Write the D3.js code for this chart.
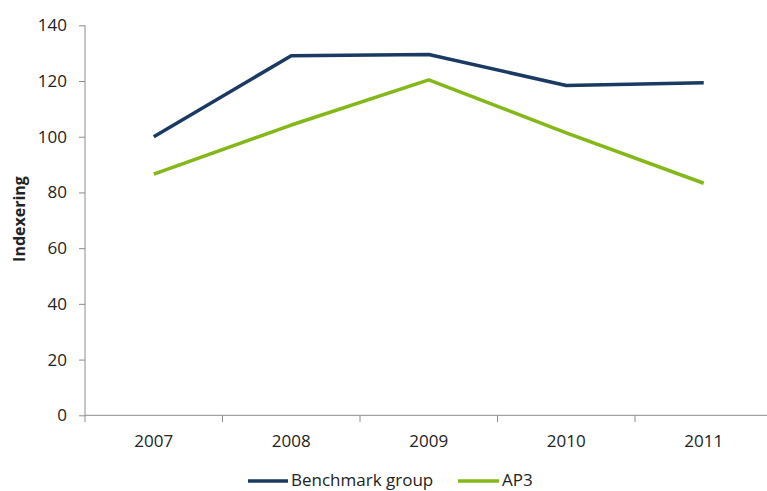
<!DOCTYPE html>
<html><head><meta charset="utf-8">
<script src="https://cdn.jsdelivr.net/npm/d3@7"></script>
<style>
body{margin:0;background:#fff;}
text{font-family:"Open Sans","Liberation Sans",sans-serif;fill:#222;}
</style></head>
<body><svg id="c" width="767" height="491"></svg>
<script>
const years = ["2007","2008","2009","2010","2011"];
const benchmark = [100, 129.1, 129.5, 118.4, 119.4];
const ap3 = [86.6, 104.2, 120.4, 101.4, 83.3];
const yTicks = [0,20,40,60,80,100,120,140];
const seriesNames = ["Benchmark group","AP3"];
const colors = ["#1b3a63","#84b819"];

const svg = d3.select("#c");
const x = d3.scaleBand().domain(years).range([85, 772.5]);
const y = d3.scaleLinear().domain([0,140]).range([415.3, 25.3]);

// y axis
const ya = svg.append("g").attr("transform","translate(85,0)")
  .call(d3.axisLeft(y).tickValues(yTicks).tickSize(6).tickPadding(12));
ya.select(".domain").attr("stroke","#8c8c8c").attr("d","M0,"+y(140)+"V"+y(0));
ya.selectAll(".tick line").attr("stroke","#8c8c8c");
ya.selectAll(".tick text").attr("font-size","17px").attr("fill","#222");

// x axis
const xa = svg.append("g").attr("transform","translate(0,415.3)")
  .call(d3.axisBottom(x).tickSize(0).tickPadding(20));
xa.select(".domain").attr("stroke","#8c8c8c").attr("d","M85,0H767");
xa.selectAll(".tick text").attr("font-size","17px").attr("fill","#222");
// category separator ticks
svg.append("g").selectAll("line").data(years).join("line")
  .attr("x1",d=>x(d)).attr("x2",d=>x(d))
  .attr("y1",415.3).attr("y2",422)
  .attr("stroke","#8c8c8c");

// y label
svg.append("text").attr("transform","translate(25,219) rotate(-90)")
  .attr("text-anchor","middle").attr("font-size","16px").attr("font-weight","bold")
  .text("Indexering");

const line = d3.line().x((d,i)=>x(years[i])+x.bandwidth()/2).y(d=>y(d));
[benchmark, ap3].forEach((s,k)=>{
  svg.append("path").datum(s).attr("d",line).attr("fill","none")
    .attr("stroke",colors[k]).attr("stroke-width",3.5).attr("stroke-linejoin","round");
});

// legend
const leg = [{x1:248,x2:288,tx:291},{x1:458,x2:499,tx:502}];
leg.forEach((l,k)=>{
  svg.append("line").attr("x1",l.x1).attr("x2",l.x2).attr("y1",481).attr("y2",481)
    .attr("stroke",colors[k]).attr("stroke-width",3.5);
  svg.append("text").attr("x",l.tx).attr("y",486).attr("font-size","17px").text(seriesNames[k]);
});
</script></body></html>
